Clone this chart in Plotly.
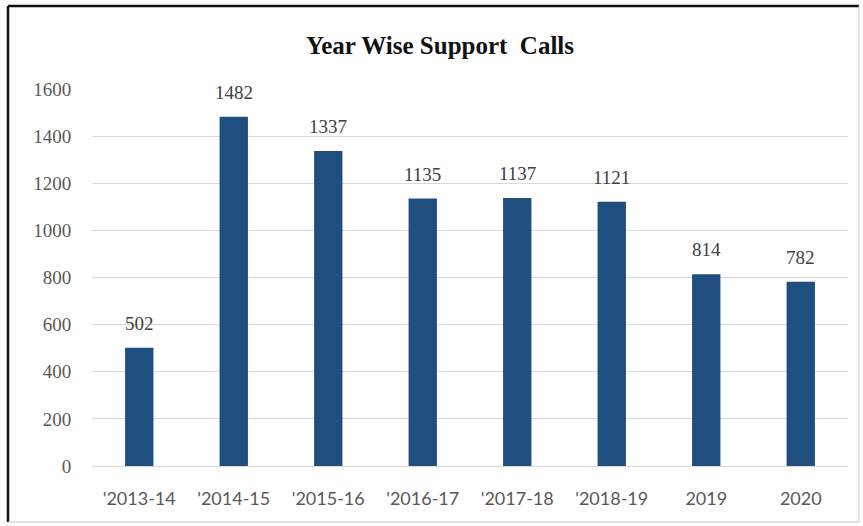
import plotly.graph_objects as go

# Support calls logged per year
years = ["'2013-14", "'2014-15", "'2015-16", "'2016-17", "'2017-18", "'2018-19", "2019", "2020"]
calls = [502, 1482, 1337, 1135, 1137, 1121, 814, 782]
y_ticks = [0, 200, 400, 600, 800, 1000, 1200, 1400, 1600]

BAR_COLOR = "#1f4e7f"
GRID = "#d9d9d9"
TEXT_GRAY = "#595959"
SERIF = "Liberation Serif"

W, H = 863, 526
L, R, T, B = 92, 15, 89, 60

fig = go.Figure(
    go.Bar(
        x=years,
        y=calls,
        marker=dict(color=BAR_COLOR, line=dict(width=0)),
        width=0.3,
    )
)

# Value labels above each bar (category index keeps "2019"/"2020" from
# being read as numeric positions)
for i, v in enumerate(calls):
    fig.add_annotation(
        x=i, y=v, text=str(v), showarrow=False,
        yanchor="bottom", yshift=12,
        font=dict(family=SERIF, size=19, color="#404040"),
    )

# Frame around the chart
pw, ph = W - L - R, H - T - B
def px(x):
    return (x - L) / pw
def py(y):
    return (H - B - y) / ph

frame = [
    (8, 6, 8, 522, "#111111", 2.5),
    (8, 6, 859, 6, "#111111", 2.5),
    (859, 6, 859, 522, "#c8c8c8", 1),
    (8, 522, 859, 522, "#c8c8c8", 1),
]
for x0, y0, x1, y1, c, w in frame:
    fig.add_shape(type="line", xref="paper", yref="paper",
                  x0=px(x0), y0=py(y0), x1=px(x1), y1=py(y1),
                  line=dict(color=c, width=w))

fig.update_layout(
    width=W, height=H,
    margin=dict(l=L, r=R, t=T, b=B),
    paper_bgcolor="white",
    plot_bgcolor="white",
    showlegend=False,
    title=dict(
        text="<b>Year Wise Support\u00a0 Calls</b>",
        x=440 / W, xref="container", xanchor="center",
        y=1 - 45 / H, yref="container", yanchor="middle",
        font=dict(family=SERIF, size=25, color="#111111"),
    ),
    xaxis=dict(
        type="category",
        categoryorder="array",
        categoryarray=years,
        range=[-0.5, len(years) - 0.5],
        showline=False,
        showgrid=False,
        ticks="outside", ticklen=16, tickcolor="rgba(0,0,0,0)",
        tickfont=dict(family="Lato", size=18, color=TEXT_GRAY),
    ),
    yaxis=dict(
        range=[0, 1600],
        tickvals=y_ticks,
        showgrid=True, gridcolor=GRID, gridwidth=1,
        zeroline=True, zerolinecolor=GRID, zerolinewidth=1,
        showline=False,
        ticks="outside", ticklen=16, tickcolor="rgba(0,0,0,0)",
        tickfont=dict(family=SERIF, size=19, color=TEXT_GRAY),
    ),
)

fig.write_html("out.html")
